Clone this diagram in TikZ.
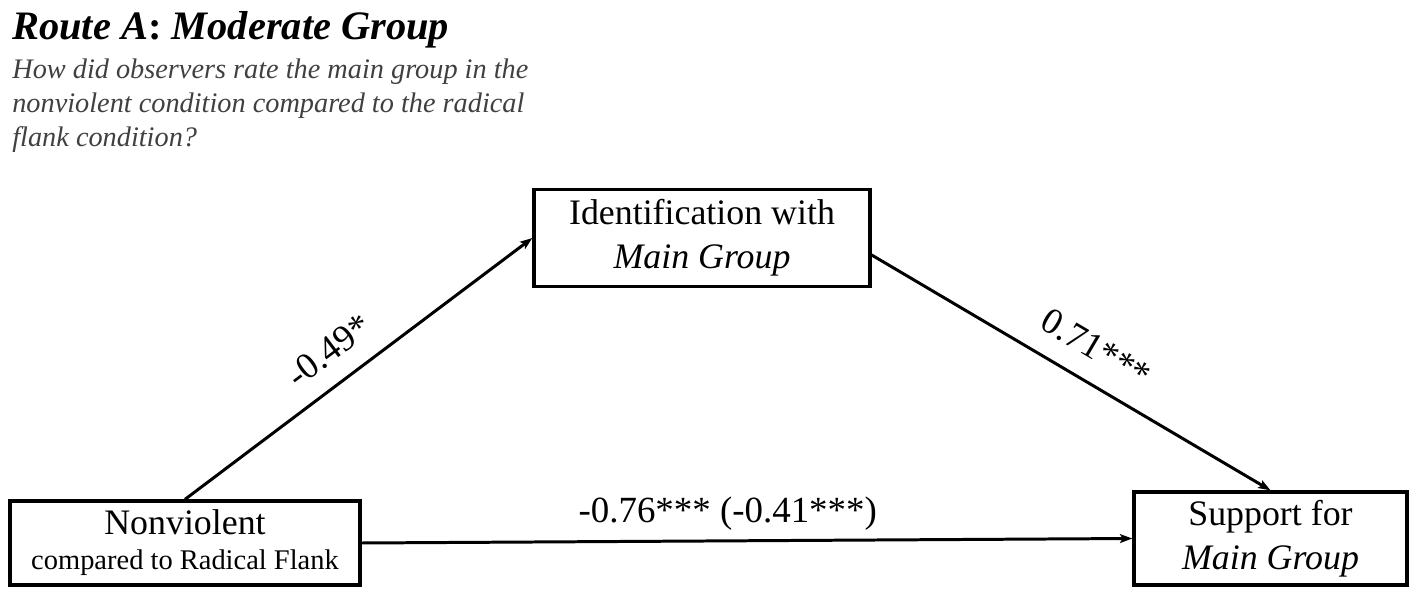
\documentclass[tikz,border=0pt]{standalone}
\usepackage{fontspec}
\setmainfont{Liberation Serif}
\usepackage{tikz}
\usetikzlibrary{arrows.meta,positioning}

\definecolor{subgray}{HTML}{404040}

\begin{document}
\begin{tikzpicture}
		\tikzstyle{Box}		= [rectangle, draw, line width=1.9pt, align=center, inner sep=0pt]
		\tikzstyle{Path}	= [line width=1.7pt, -{Stealth[length=7pt, width=5pt, inset=1.5pt]}]
		\tikzstyle{Coef}	= [font=\fontsize{21}{25}\selectfont, inner sep=0pt]
		\tikzstyle{Big}		= [font=\fontsize{20.4}{25}\selectfont]

		\useasboundingbox (0,0) rectangle (28.34,12);

		% heading
		\node (title) at (0.24, 11.2) [anchor=base west, inner sep=0pt, font=\fontsize{23}{27}\selectfont]
			{\textbf{\textit{Route A}: \textit{Moderate Group}}};
		\node (question) at (0.24, 10.82) [anchor=north west, inner sep=0pt, align=left, text=subgray, font=\fontsize{16.1}{19.3}\selectfont\itshape]
			{How did observers rate the main group in the\\nonviolent condition compared to the radical\\flank condition?};

		% variables
		\node (nv) at (3.7, 1.14) [Box, minimum width=7cm, minimum height=1.68cm][Big]
			{Nonviolent\\[-5pt]{\fontsize{16.2}{20}\selectfont compared to Radical Flank}};
		\node (id) at (14.04, 7.24) [Box, minimum width=6.72cm, minimum height=1.94cm][Big]
			{Identification with\\\textit{Main Group}};
		\node (sup) at (25.41, 1.23) [Box, minimum width=5.46cm, minimum height=1.86cm][Big]
			{Support for\\\textit{Main Group}};

		% paths
		\draw (nv.north) to node [Coef, pos=0.47, sloped, above=11pt] {-0.49*} (id.west) [Path];
		\draw ([yshift=-0.34cm]id.east) to node [Coef, pos=0.52, sloped, above=12pt] {0.71***} (sup.north) [Path];
		\draw (nv.east) to node [Coef, pos=0.475, above=6pt] {-0.76*** (-0.41***)} (sup.west) [Path];
	\end{tikzpicture}
\end{document}
